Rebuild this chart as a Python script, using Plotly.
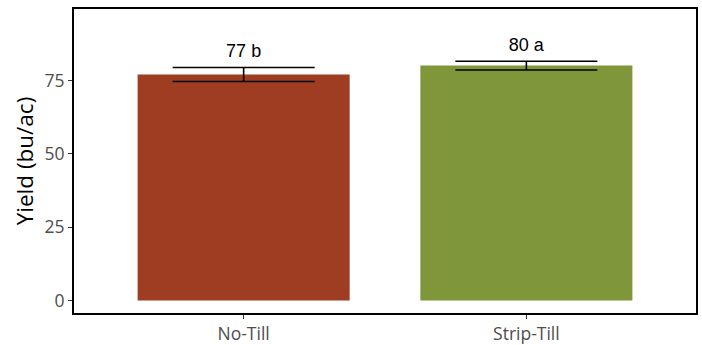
import plotly.graph_objects as go

categories = ["No-Till", "Strip-Till"]
yield_mean = [77.05, 80.1]
yield_se = [2.4, 1.5]
labels = ["77 b", "80 a"]
colors = ["#9E3D22", "#7F963B"]
label_offset = 5.0

label_y = [m + s + label_offset for m, s in zip(yield_mean, yield_se)]

fig = go.Figure()
fig.add_trace(go.Bar(
    x=categories, y=yield_mean, width=0.75,
    marker=dict(color=colors, line=dict(width=0)),
    error_y=dict(type="data", array=yield_se, visible=True,
                 color="black", thickness=1.6, width=71),
    showlegend=False, hoverinfo="skip",
))
fig.add_trace(go.Scatter(
    x=categories, y=label_y, mode="text", text=labels,
    textfont=dict(family="Liberation Sans, Arial", size=18, color="black"),
    textposition="middle center", showlegend=False, hoverinfo="skip",
))

fig.update_layout(
    width=702, height=345,
    margin=dict(l=74, r=6, t=9, b=32),
    plot_bgcolor="white", paper_bgcolor="white",
    xaxis=dict(
        range=[-0.6, 1.6], showgrid=False, zeroline=False, automargin=False,
        showline=True, mirror=True, linecolor="black", linewidth=1.8,
        ticks="outside", ticklen=4, tickcolor="#333333", tickwidth=1.2,
        tickfont=dict(family="Open Sans", size=17.5, color="#4D4D4D"),
    ),
    yaxis=dict(
        range=[-4.3, 99.4], tickvals=[0, 25, 50, 75], automargin=False,
        showgrid=False, zeroline=False,
        showline=True, mirror=True, linecolor="black", linewidth=1.8,
        ticks="outside", ticklen=4, tickcolor="#333333", tickwidth=1.2,
        tickfont=dict(family="Open Sans", size=17.5, color="#4D4D4D"),
        title=dict(text="Yield (bu/ac)", standoff=5,
                   font=dict(family="Open Sans", size=22.5, color="black")),
    ),
)

fig.write_html("out.html")
